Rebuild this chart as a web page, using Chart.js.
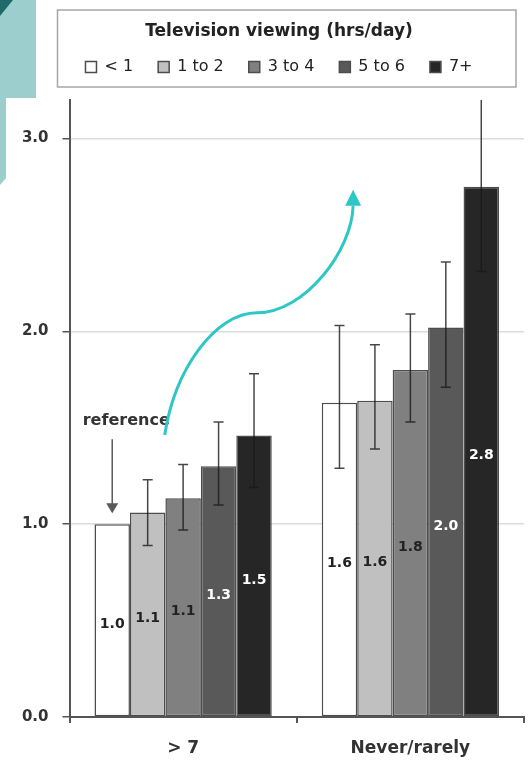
<!DOCTYPE html>
<html>
<head>
<meta charset="utf-8">
<script src="https://cdn.jsdelivr.net/npm/chart.js@4.4.1/dist/chart.umd.min.js"></script>
<style>
  html, body { margin: 0; padding: 0; background: #ffffff; }
  #wrap { width: 529px; height: 761px; position: relative; }
</style>
</head>
<body>
<div id="wrap"><canvas id="chart"></canvas></div>
<script>
// Reading frequency groups on the category axis
const categories = ['> 7', 'Never/rarely'];

// Television viewing bands (legend entries)
const seriesNames = ['< 1', '1 to 2', '3 to 4', '5 to 6', '7+'];

// Relative risk per viewing band, one value per reading group
const lessThan1 = [1.0, 1.63];
const oneTo2 = [1.06, 1.64];
const threeTo4 = [1.135, 1.80];
const fiveTo6 = [1.30, 2.02];
const sevenPlus = [1.46, 2.75];

// 95% confidence limits (null where the band is the reference group)
const lessThan1Low = [null, 1.29];
const lessThan1High = [null, 2.03];
const oneTo2Low = [0.89, 1.39];
const oneTo2High = [1.23, 1.93];
const threeTo4Low = [0.97, 1.53];
const threeTo4High = [1.31, 2.09];
const fiveTo6Low = [1.10, 1.71];
const fiveTo6High = [1.53, 2.36];
const sevenPlusLow = [1.19, 2.31];
const sevenPlusHigh = [1.78, 3.35];

// Value axis
const yTicks = [0, 1, 2, 3];
const yMax = 3.2;

const legendTitle = 'Television viewing (hrs/day)';
const referenceNote = 'reference';

const seriesValues = [lessThan1, oneTo2, threeTo4, fiveTo6, sevenPlus];
const seriesLow = [lessThan1Low, oneTo2Low, threeTo4Low, fiveTo6Low, sevenPlusLow];
const seriesHigh = [lessThan1High, oneTo2High, threeTo4High, fiveTo6High, sevenPlusHigh];
const fills = ['#ffffff', '#c0c0c0', '#808080', '#595959', '#262626'];
const labelInk = ['#222222', '#222222', '#222222', '#ffffff', '#ffffff'];

// Slide decoration in the top-left corner
const slideDecor = {
  id: 'slideDecor',
  beforeDraw(chart) {
    const ctx = chart.ctx;
    ctx.save();
    ctx.fillStyle = '#9ccece';
    ctx.fillRect(0, 0, 36, 98);
    ctx.beginPath();
    ctx.moveTo(0, 98); ctx.lineTo(6, 98); ctx.lineTo(6, 178); ctx.lineTo(0, 185);
    ctx.closePath();
    ctx.fill();
    ctx.fillStyle = '#1f6b6b';
    ctx.beginPath();
    ctx.moveTo(0, 0); ctx.lineTo(13, 0); ctx.lineTo(0, 16);
    ctx.closePath();
    ctx.fill();
    ctx.restore();
  }
};

// Keep the legend block centred inside its frame rather than over the axis labels
const legendInset = {
  id: 'legendInset',
  afterLayout(chart) {
    if (chart.legend) chart.legend.left += 16;
  }
};

// Frame around the legend block
const legendFrame = {
  id: 'legendFrame',
  afterDraw(chart) {
    const lg = chart.legend;
    if (!lg) return;
    const ctx = chart.ctx;
    const area = chart.chartArea;
    ctx.save();
    ctx.strokeStyle = '#a6a6a6';
    ctx.lineWidth = 1.5;
    ctx.strokeRect(area.left - 12, lg.top, (area.right - 8) - (area.left - 12), lg.bottom + 2 - lg.top);
    ctx.restore();
  }
};

// Confidence-interval whiskers
const whiskers = {
  id: 'whiskers',
  afterDatasetsDraw(chart) {
    const ctx = chart.ctx;
    const y = chart.scales.y;
    const area = chart.chartArea;
    ctx.save();
    ctx.beginPath();
    ctx.rect(area.left, area.top, area.right - area.left, area.bottom - area.top);
    ctx.clip();
    ctx.strokeStyle = 'rgba(25,25,25,0.8)';
    ctx.lineWidth = 1.5;
    chart.data.datasets.forEach((ds, di) => {
      const meta = chart.getDatasetMeta(di);
      meta.data.forEach((bar, i) => {
        const lo = seriesLow[di][i], hi = seriesHigh[di][i];
        if (lo == null || hi == null) return;
        const yl = y.getPixelForValue(lo), yh = y.getPixelForValue(hi);
        ctx.beginPath();
        ctx.moveTo(bar.x, yl); ctx.lineTo(bar.x, yh);
        ctx.moveTo(bar.x - 5, yl); ctx.lineTo(bar.x + 5, yl);
        ctx.moveTo(bar.x - 5, yh); ctx.lineTo(bar.x + 5, yh);
        ctx.stroke();
      });
    });
    ctx.restore();
  }
};

// Value labels inside the bars
const valueLabels = {
  id: 'valueLabels',
  afterDatasetsDraw(chart) {
    const ctx = chart.ctx;
    ctx.save();
    ctx.font = 'bold 14px "DejaVu Sans"';
    ctx.textAlign = 'center';
    ctx.textBaseline = 'middle';
    chart.data.datasets.forEach((ds, di) => {
      const meta = chart.getDatasetMeta(di);
      meta.data.forEach((bar, i) => {
        ctx.fillStyle = labelInk[di];
        ctx.fillText(ds.data[i].toFixed(1), bar.x, (bar.y + bar.base) / 2 + 4);
      });
    });
    ctx.restore();
  }
};

// "reference" note with its pointer, and the rising trend arrow
const annotations = {
  id: 'annotations',
  afterDraw(chart) {
    const ctx = chart.ctx;
    const xs = chart.scales.x, ys = chart.scales.y;
    const refBar = chart.getDatasetMeta(0).data[0];
    ctx.save();
    // pointer to the reference bar
    const tipY = refBar.y - 11;
    ctx.strokeStyle = '#595959';
    ctx.fillStyle = '#595959';
    ctx.lineWidth = 1.5;
    ctx.beginPath();
    ctx.moveTo(refBar.x, tipY - 74); ctx.lineTo(refBar.x, tipY - 8);
    ctx.stroke();
    ctx.beginPath();
    ctx.moveTo(refBar.x - 6, tipY - 10); ctx.lineTo(refBar.x + 6, tipY - 10); ctx.lineTo(refBar.x, tipY);
    ctx.closePath();
    ctx.fill();
    ctx.fillStyle = '#333333';
    ctx.font = 'bold 16px "DejaVu Sans"';
    ctx.textAlign = 'center';
    ctx.textBaseline = 'middle';
    ctx.fillText(referenceNote, refBar.x + 14, tipY - 92);

    // trend arrow, placed in category/value space
    const c0 = xs.getPixelForValue(0);
    const cw = xs.getPixelForValue(1) - c0;
    const p = (dx, v) => [c0 + dx * cw, ys.getPixelForValue(v)];
    const a = p(-0.081, 1.463), b1 = p(-0.037, 1.801), b2 = p(0.140, 2.096), m = p(0.325, 2.096);
    const b3 = p(0.537, 2.096), b4 = p(0.744, 2.423), e = p(0.748, 2.652), tip = p(0.748, 2.735);
    ctx.strokeStyle = '#2ec6c6';
    ctx.fillStyle = '#2ec6c6';
    ctx.lineWidth = 3;
    ctx.beginPath();
    ctx.moveTo(a[0], a[1]);
    ctx.bezierCurveTo(b1[0], b1[1], b2[0], b2[1], m[0], m[1]);
    ctx.bezierCurveTo(b3[0], b3[1], b4[0], b4[1], e[0], e[1]);
    ctx.stroke();
    ctx.beginPath();
    ctx.moveTo(e[0] - 8, e[1]); ctx.lineTo(e[0] + 8, e[1]); ctx.lineTo(tip[0], tip[1]);
    ctx.closePath();
    ctx.fill();
    ctx.restore();
  }
};

const datasets = seriesNames.map((name, i) => ({
  label: name,
  data: seriesValues[i],
  backgroundColor: fills[i],
  borderColor: '#4d4d4d',
  borderWidth: 1.5,
  borderSkipped: false,
  categoryPercentage: 0.78,
  barPercentage: 1.0,
  xAxisID: 'x',
  yAxisID: 'y'
}));

new Chart(document.getElementById('chart'), {
  type: 'bar',
  data: { labels: categories, datasets },
  plugins: [slideDecor, legendInset, whiskers, valueLabels, legendFrame, annotations],
  options: {
    responsive: true,
    maintainAspectRatio: false,
    animation: false,
    layout: { padding: { top: 10, left: 18, right: 5, bottom: 0 } },
    plugins: {
      tooltip: { enabled: false },
      legend: {
        position: 'top',
        title: {
          display: true,
          text: legendTitle,
          color: '#222222',
          font: { family: 'DejaVu Sans', weight: 'bold', size: 17, lineHeight: 1 },
          padding: { top: 13.5, bottom: -6.5 }
        },
        labels: {
          color: '#222222',
          font: { family: 'DejaVu Sans', size: 16 },
          boxWidth: 11,
          boxHeight: 11,
          padding: 25
        }
      }
    },
    scales: {
      x: {
        type: 'category',
        offset: true,
        grid: { display: true, drawOnChartArea: false, drawTicks: true, tickLength: 6, tickColor: '#555555', lineWidth: 2, offset: true },
        border: { display: true, color: '#555555', width: 2 },
        ticks: { color: '#333333', padding: 15, font: { family: 'DejaVu Sans', weight: 'bold', size: 17 } },
        afterFit: (s) => { s.height = 44; }
      },
      spacer: {
        type: 'category',
        axis: 'x',
        position: 'top',
        display: true,
        grid: { display: false },
        border: { display: false },
        ticks: { display: false },
        afterFit: (s) => { s.height = 15; }
      },
      y: {
        type: 'linear',
        min: 0,
        max: yMax,
        afterBuildTicks: (s) => { s.ticks = yTicks.map(v => ({ value: v })); },
        afterFit: (s) => { s.width = 51.5; },
        grid: {
          color: (c) => (c.tick && c.tick.value === 0) ? 'rgba(0,0,0,0)' : '#dcdcdc',
          lineWidth: 1.5,
          tickColor: '#555555',
          tickLength: 7
        },
        border: { display: true, color: '#555555', width: 2 },
        ticks: {
          color: '#333333',
          padding: 14,
          font: { family: 'DejaVu Sans', weight: 'bold', size: 15 },
          callback: (v) => Number(v).toFixed(1)
        }
      }
    }
  }
});
</script>
</body>
</html>
